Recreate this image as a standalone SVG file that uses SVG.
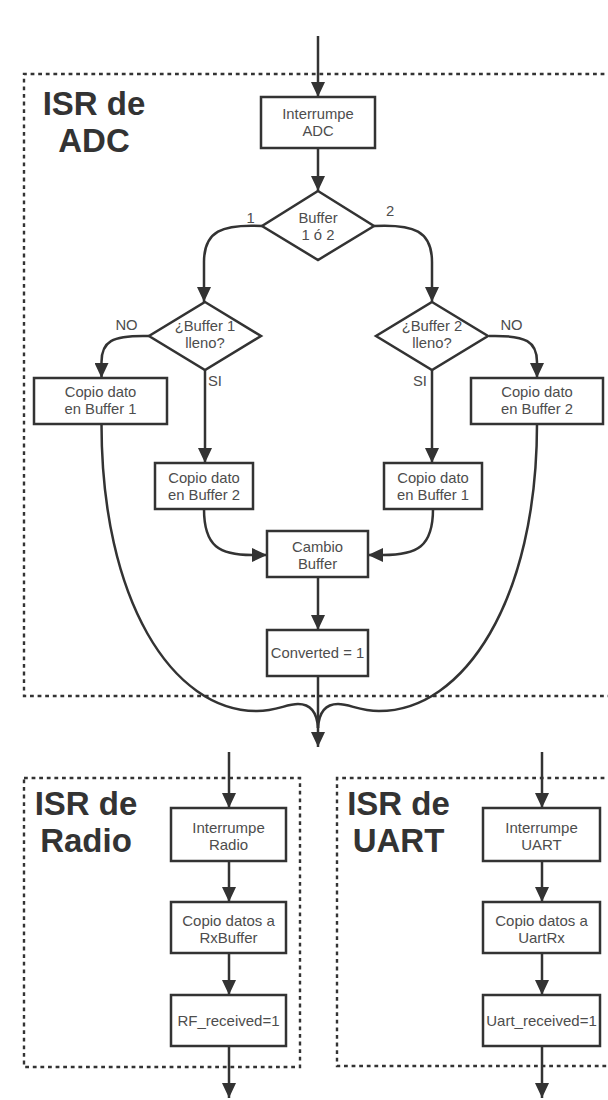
<svg xmlns="http://www.w3.org/2000/svg" width="608" height="1100" viewBox="0 0 608 1100">
  <defs>
    <marker id="ah" markerUnits="userSpaceOnUse" markerWidth="15" markerHeight="14" refX="15" refY="7" orient="auto">
      <path d="M0,0 L15,7 L0,14 z" fill="#333"/>
    </marker>
    <style>
      .frame { fill: none; stroke: #333; stroke-width: 2.4; stroke-dasharray: 3.8 3.8; }
      .box { fill: #fff; stroke: #333; stroke-width: 2.5; }
      .link { fill: none; stroke: #333; stroke-width: 2.5; }
      .arrow { marker-end: url(#ah); }
      .t { font-family: "Liberation Sans", Arial, sans-serif; font-size: 14.8px; fill: #4d4d4d; text-anchor: middle; }
      .t2 { font-family: "Liberation Sans", Arial, sans-serif; font-size: 15px; fill: #4d4d4d; text-anchor: middle; }
      .lbl { font-family: "Liberation Sans", Arial, sans-serif; font-size: 14.8px; fill: #4d4d4d; }
      .title { font-family: "Liberation Sans", Arial, sans-serif; font-size: 33px; font-weight: bold; fill: #333; text-anchor: middle; }
    </style>
  </defs>

  <rect width="608" height="1100" fill="#fff"/>

  <!-- ISR frames -->
  <g id="frame-adc">
    <path class="frame" d="M612,74 H24 V696 H612"/>
    <text class="title" x="94" y="115">ISR de</text>
    <text class="title" x="94" y="152">ADC</text>
  </g>
  <g id="frame-radio">
    <rect class="frame" x="24" y="778" width="276" height="289"/>
    <text class="title" x="86" y="815">ISR de</text>
    <text class="title" x="86" y="852">Radio</text>
  </g>
  <g id="frame-uart">
    <path class="frame" d="M612,778 H337 V1066 H612"/>
    <text class="title" x="398.5" y="815">ISR de</text>
    <text class="title" x="398.5" y="852">UART</text>
  </g>

  <!-- connectors -->
  <g id="connectors">
    <path class="link arrow" d="M318,36 V97"/>
    <path class="link arrow" d="M318,148 V191"/>
    <path class="link arrow" d="M262,226 C222,224 204,231 204,262 V302"/>
    <path class="link arrow" d="M374,226 C414,224 432,231 432,262 V302"/>
    <path class="link arrow" d="M149,336 C111,335 101.5,342 101.5,362 V378"/>
    <path class="link arrow" d="M489,336 C527,335 537,342 537,362 V378"/>
    <path class="link arrow" d="M205,370 V463"/>
    <path class="link arrow" d="M432,370 V463"/>
    <path class="link arrow" d="M204,509 C204,547 220,555 252,555 H267"/>
    <path class="link arrow" d="M433,509 C433,547 417,555 383,555 H368"/>
    <path class="link arrow" d="M318,577 V630"/>
    <path class="link" d="M101.5,424 C101.5,600 172,711 257,711 C277,711 286,704 298,704 C310,704 317,712 318,728"/>
    <path class="link" d="M537,424 C537,600 464,711 379,711 C359,711 350,704 338,704 C326,704 319,712 318,728"/>
    <path class="link arrow" d="M318,676 V747"/>

    <path class="link arrow" d="M229,752 V808"/>
    <path class="link arrow" d="M229,861 V902"/>
    <path class="link arrow" d="M229,953 V995"/>
    <path class="link arrow" d="M229,1046 V1098"/>

    <path class="link arrow" d="M542,752 V808"/>
    <path class="link arrow" d="M542,861 V902"/>
    <path class="link arrow" d="M542,953 V995"/>
    <path class="link arrow" d="M542,1046 V1098"/>

    <text class="lbl" x="250.5" y="223" text-anchor="middle">1</text>
    <text class="lbl" x="390" y="216" text-anchor="middle">2</text>
    <text class="lbl" x="126.5" y="330" text-anchor="middle">NO</text>
    <text class="lbl" x="511.5" y="330" text-anchor="middle">NO</text>
    <text class="lbl" x="208" y="386">SI</text>
    <text class="lbl" x="413" y="386">SI</text>
  </g>

  <!-- ADC interrupt routine -->
  <g id="adc-int">
    <rect class="box" x="261" y="97" width="114" height="51"/>
    <text class="t" x="318" y="119">Interrumpe</text>
    <text class="t" x="318" y="136">ADC</text>
  </g>
  <g id="buffer-sel">
    <polygon class="box" points="318,191 374,226 318,260 262,226"/>
    <text class="t" x="318" y="223">Buffer</text>
    <text class="t" x="318" y="239.5">1 ó 2</text>
  </g>
  <g id="buf1-full">
    <polygon class="box" points="205,302 261,336 205,370 149,336"/>
    <text class="t" x="205" y="331">¿Buffer 1</text>
    <text class="t" x="205" y="348">lleno?</text>
  </g>
  <g id="buf2-full">
    <polygon class="box" points="432,302 488,336 432,370 376,336"/>
    <text class="t" x="432" y="331">¿Buffer 2</text>
    <text class="t" x="432" y="348">lleno?</text>
  </g>
  <g id="copy-b1-no">
    <rect class="box" x="34" y="378" width="133" height="46"/>
    <text class="t" x="100.5" y="397">Copio dato</text>
    <text class="t" x="100.5" y="414">en Buffer 1</text>
  </g>
  <g id="copy-b2-no">
    <rect class="box" x="471" y="378" width="132" height="46"/>
    <text class="t" x="537" y="397">Copio dato</text>
    <text class="t" x="537" y="414">en Buffer 2</text>
  </g>
  <g id="copy-b2-si">
    <rect class="box" x="155" y="463" width="98" height="46"/>
    <text class="t" x="204" y="483">Copio dato</text>
    <text class="t" x="204" y="500">en Buffer 2</text>
  </g>
  <g id="copy-b1-si">
    <rect class="box" x="384" y="463" width="98" height="46"/>
    <text class="t" x="433" y="483">Copio dato</text>
    <text class="t" x="433" y="500">en Buffer 1</text>
  </g>
  <g id="swap-buffer">
    <rect class="box" x="267" y="531" width="101" height="46"/>
    <text class="t" x="317.5" y="552">Cambio</text>
    <text class="t" x="317.5" y="569">Buffer</text>
  </g>
  <g id="converted">
    <rect class="box" x="267" y="630" width="101" height="46"/>
    <text class="t" x="317.5" y="658">Converted = 1</text>
  </g>

  <!-- Radio interrupt routine -->
  <g id="radio-int">
    <rect class="box" x="171" y="808" width="115" height="53"/>
    <text class="t2" x="228.5" y="833">Interrumpe</text>
    <text class="t2" x="228.5" y="850">Radio</text>
  </g>
  <g id="radio-copy">
    <rect class="box" x="171" y="902" width="115" height="51"/>
    <text class="t2" x="228.5" y="926">Copio datos a</text>
    <text class="t2" x="228.5" y="943">RxBuffer</text>
  </g>
  <g id="radio-flag">
    <rect class="box" x="171" y="995" width="115" height="51"/>
    <text class="t2" x="228.5" y="1026">RF_received=1</text>
  </g>

  <!-- UART interrupt routine -->
  <g id="uart-int">
    <rect class="box" x="483" y="808" width="117" height="53"/>
    <text class="t2" x="541.5" y="833">Interrumpe</text>
    <text class="t2" x="541.5" y="850">UART</text>
  </g>
  <g id="uart-copy">
    <rect class="box" x="483" y="902" width="117" height="51"/>
    <text class="t2" x="541.5" y="926">Copio datos a</text>
    <text class="t2" x="541.5" y="943">UartRx</text>
  </g>
  <g id="uart-flag">
    <rect class="box" x="483" y="995" width="117" height="51"/>
    <text class="t2" x="541.5" y="1026">Uart_received=1</text>
  </g>
</svg>
